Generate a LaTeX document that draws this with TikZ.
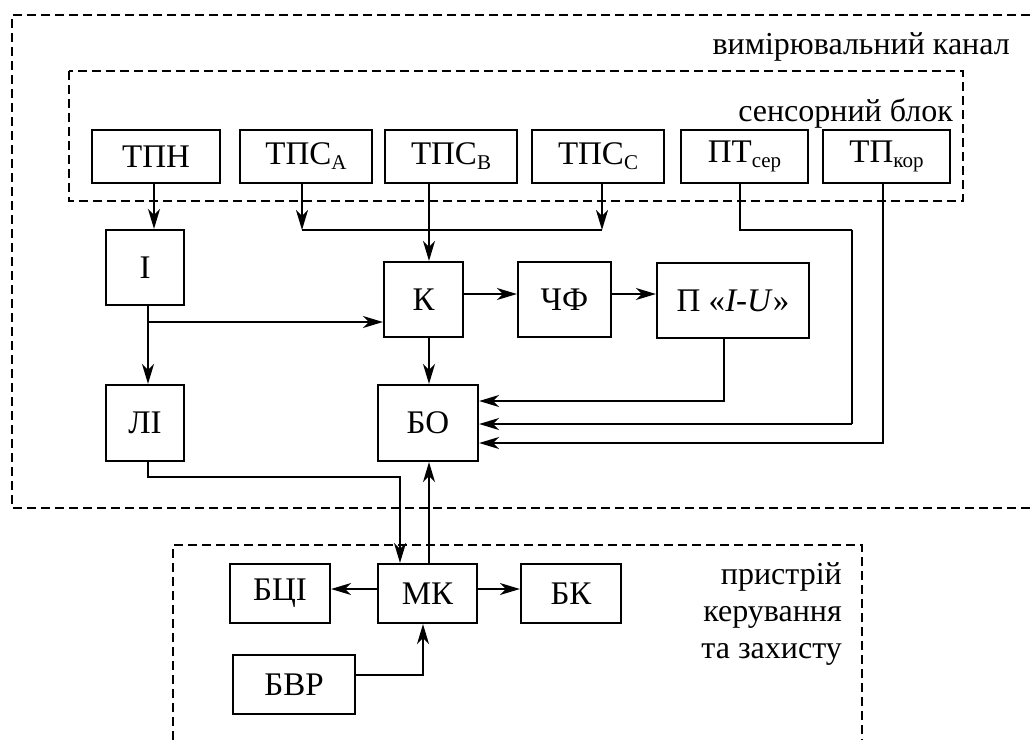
\documentclass[tikz,border=0pt]{standalone}
\usepackage{fontspec}
\setmainfont{Liberation Serif}
\usetikzlibrary{arrows.meta}
\newcommand\subx[1]{\raisebox{-5pt}{\fontsize{21}{21}\selectfont #1}}
\begin{document}
\begin{tikzpicture}[x=1pt,y=-1pt,
  box/.style={draw,line width=2.2pt,inner sep=0pt,font=\fontsize{33}{38}\selectfont},
  lbl/.style={inner sep=0pt,font=\fontsize{32}{37}\selectfont},
  wire/.style={line width=2.2pt},
  arr/.style={line width=2.2pt,-{Stealth[length=20pt,width=12pt,inset=6pt]}},
  dsh/.style={line width=1.8pt,dash pattern=on 9pt off 5pt}]
\useasboundingbox (0,0) rectangle (1030,740);
% dashed frames
\draw[dsh] (1030,15) -- (12,15) -- (12,508) -- (1030,508);
\draw[dsh] (69,71) rectangle (963,201);
\draw[dsh] (173,740) -- (173,545) -- (862,545) -- (862,740);
\node[lbl,anchor=east] (lch) at (1010,47) {вимірювальний канал};
\node[lbl,anchor=east] (lsb) at (953,113) {сенсорний блок};
\node[lbl,anchor=east,align=right,font=\fontsize{32}{37}\selectfont] (lpk) at (842,614) {пристрій\\керування\\та захисту};
% top row
\node[box,minimum width=128,minimum height=53] (tpn) at (156,156.5) {ТПН};
\node[box,minimum width=132,minimum height=53] (tpsa) at (306,156.5) {ТПС\subx{A}};
\node[box,minimum width=132,minimum height=53] (tpsb) at (451,156.5) {ТПС\subx{B}};
\node[box,minimum width=132,minimum height=53] (tpsc) at (598,156.5) {ТПС\subx{C}};
\node[box,minimum width=127,minimum height=53] (pts) at (744.5,156.5) {ПТ\subx{сер}};
\node[box,minimum width=127,minimum height=53] (tpk) at (886.5,156.5) {ТП\subx{кор}};
% middle
\node[box,minimum width=78,minimum height=75] (i) at (145,267.5) {І};
\node[box,minimum width=79,minimum height=75] (k) at (423.5,299.5) {К};
\node[box,minimum width=93,minimum height=75] (chf) at (564.5,299.5) {ЧФ};
\node[box,minimum width=152,minimum height=75] (piu) at (733,300.5) {П «\textit{I-U}»};
\node[box,minimum width=78,minimum height=76] (li) at (145,423) {ЛІ};
\node[box,minimum width=100,minimum height=76] (bo) at (428,423) {БО};
% bottom
\node[box,minimum width=100,minimum height=59] (bci) at (280,593.5) {БЦІ};
\node[box,minimum width=99,minimum height=59] (mk) at (427.5,593.5) {МК};
\node[box,minimum width=100,minimum height=59] (bk) at (571,593.5) {БК};
\node[box,minimum width=122,minimum height=59] (bvr) at (294,684.5) {БВР};
% helper coordinates
\coordinate (bus) at (0,230);
\coordinate (ctn) at (154,0);
\coordinate (cta) at (302,0);
\coordinate (ctc) at (602,0);
\coordinate (c1) at (429,0);
\coordinate (c0) at (148,0);
\coordinate (brI) at (0,322);
\coordinate (r1) at (0,294);
\coordinate (jl) at (0,477);
\coordinate (c2) at (400,0);
\coordinate (cp) at (724,0);
\coordinate (rp) at (0,401);
\coordinate (cs) at (740,0);
\coordinate (cs2) at (852,0);
\coordinate (rs) at (0,424);
\coordinate (ck) at (883,0);
\coordinate (rk) at (0,443);
\coordinate (rm) at (0,589);
\coordinate (rb) at (0,675);
\coordinate (cb) at (423,0);
% connectors top
\draw[arr] (tpn.south -| ctn) -- (i.north -| ctn);
\draw[arr] (tpsa.south -| cta) -- (bus -| cta);
\draw[arr] (tpsc.south -| ctc) -- (bus -| ctc);
\draw[wire] (bus -| cta) -- (bus -| ctc);
\draw[arr] (tpsb.south -| c1) -- (k.north -| c1);
% I
\draw[arr] (i.south -| c0) -- (li.north -| c0);
\draw[arr] (brI -| c0) -- (brI -| k.west);
% K chain
\draw[arr] (k.east |- r1) -- (chf.west |- r1);
\draw[arr] (chf.east |- r1) -- (piu.west |- r1);
\draw[arr] (k.south -| c1) -- (bo.north -| c1);
% into BO
\draw[arr] (piu.south -| cp) -- (rp -| cp) -- (rp -| bo.east);
\draw[wire] (pts.south -| cs) -- (bus -| cs) -- (bus -| cs2);
\draw[line width=1.6pt] (bus -| cs2) -- (rs -| cs2);
\draw[arr] (rs -| cs2) -- (rs -| bo.east);
\draw[arr] (tpk.south -| ck) -- (rk -| ck) -- (rk -| bo.east);
% LI to MK, MK to BO
\draw[arr] (li.south -| c0) -- (jl -| c0) -- (jl -| c2) -- (mk.north -| c2);
\draw[arr] (mk.north -| c1) -- (bo.south -| c1);
% MK
\draw[arr] (mk.west |- rm) -- (bci.east |- rm);
\draw[arr] (mk.east |- rm) -- (bk.west |- rm);
\draw[arr] (bvr.east |- rb) -- (rb -| cb) -- (mk.south -| cb);
\end{tikzpicture}
\end{document}
